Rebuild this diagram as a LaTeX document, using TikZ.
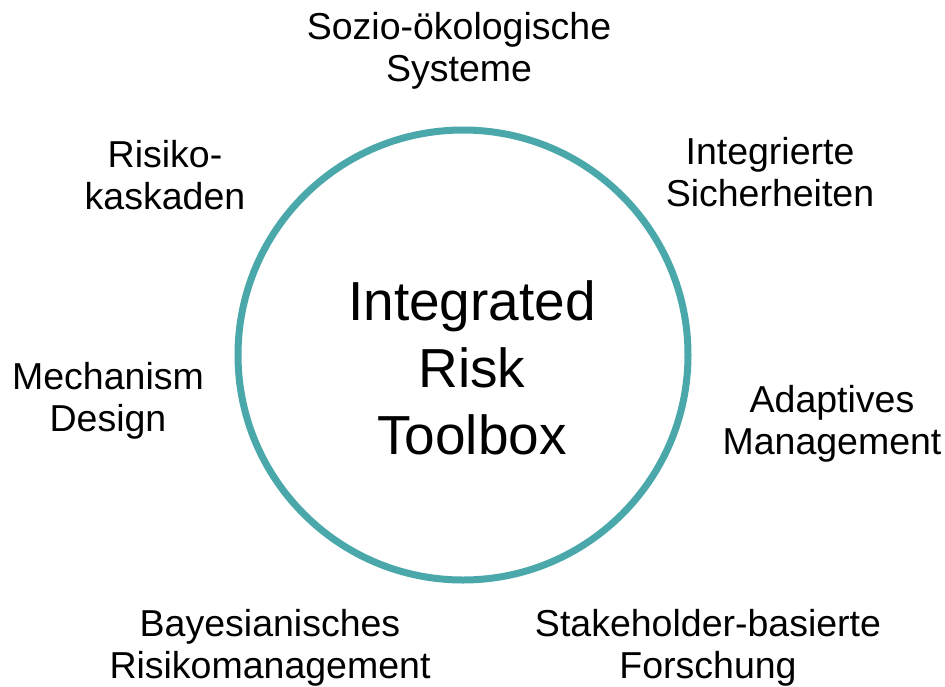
\documentclass[tikz,border=0pt]{standalone}
\usepackage{fontspec}
\setmainfont{Liberation Sans}
\definecolor{ringteal}{RGB}{74,168,170}

\begin{document}
\begin{tikzpicture}[x=1pt,y=-1pt,
    lbl/.style={align=center, inner sep=0pt, font=\fontsize{37.5}{42}\selectfont},
    core/.style={align=center, inner sep=0pt, font=\fontsize{55}{67}\selectfont}]
    \useasboundingbox (0,0) rectangle (945,686);
    \draw [ringteal, line width=7pt] (463,355) circle (225pt);
    \node[core] (irt) at (472,368) {Integrated\\Risk\\Toolbox};
    \node[lbl] (soz) at (459,51) {Sozio-ökologische\\Systeme};
    \node[lbl] (kask) at (165,175) {Risiko-\\kaskaden};
    \node[lbl] (sich) at (770,172) {Integrierte\\Sicherheiten};
    \node[lbl] (mech) at (108,401) {Mechanism\\Design};
    \node[lbl] (adapt) at (832,424) {Adaptives\\Management};
    \node[lbl] (bayes) at (270,648) {Bayesianisches\\Risikomanagement};
    \node[lbl] (stake) at (708,648) {Stakeholder-basierte\\Forschung};
  \end{tikzpicture}
\end{document}
